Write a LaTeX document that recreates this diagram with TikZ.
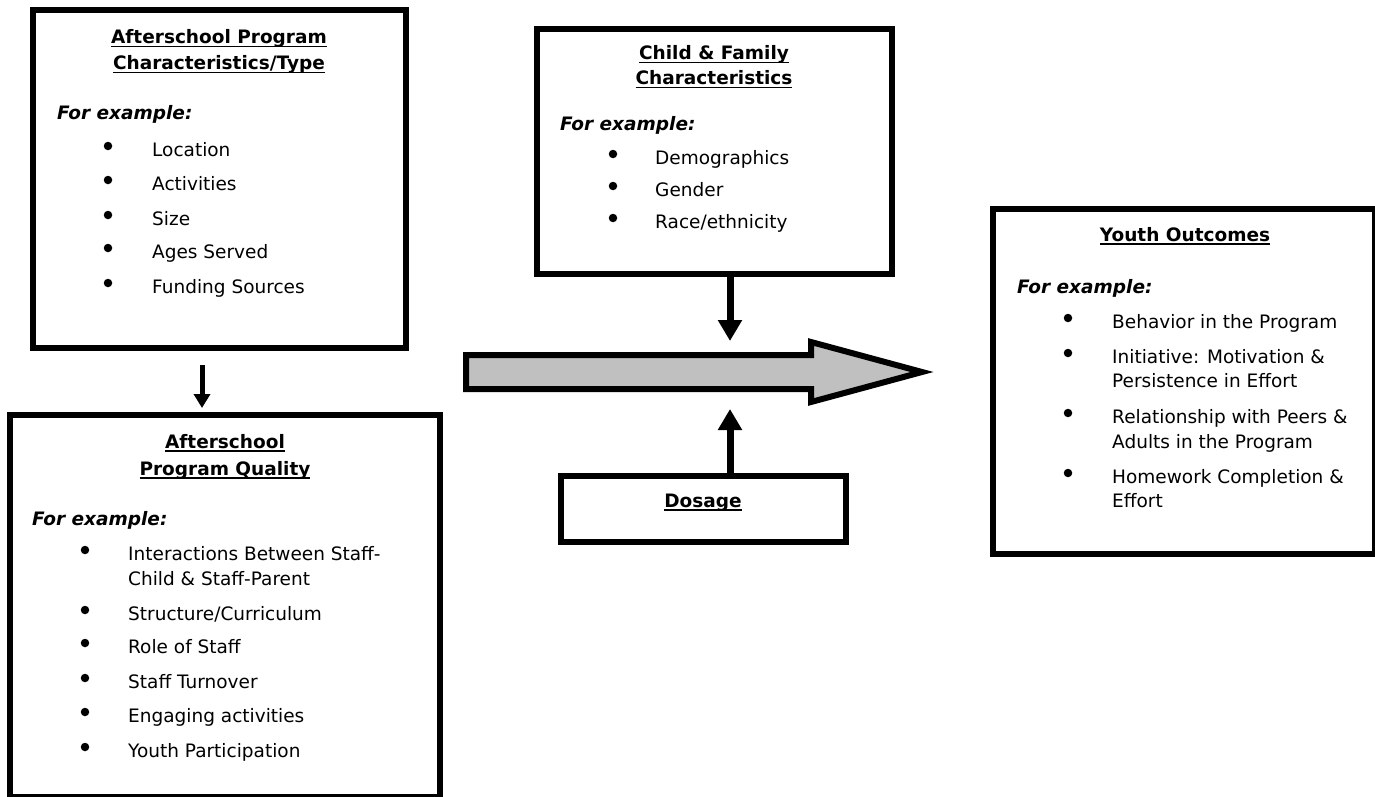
\documentclass[tikz,border=0pt]{standalone}
\usepackage{fontspec}
\setmainfont{DejaVu Sans}
\usetikzlibrary{arrows.meta}
\definecolor{silver}{RGB}{192,192,192}
\newcommand{\undl}[1]{\setbox0=\hbox{#1}\rlap{\rule[-3.5pt]{\wd0}{1.8pt}}\box0}
\tikzset{
  box/.style={draw, line width=6pt, inner sep=0pt},
  ttl/.style={font=\bfseries\fontsize{18.5}{22}\selectfont, anchor=base, inner sep=0pt},
  ex/.style={font=\bfseries\itshape\fontsize{18.5}{22}\selectfont, anchor=base west, inner sep=0pt},
  itm/.style={font=\fontsize{18.5}{22}\selectfont, anchor=base west, inner sep=0pt},
  dot/.style={circle, fill, inner sep=0pt, minimum size=8.5pt},
  thinconn/.style={line width=5pt, -{Triangle[length=14pt,width=16pt]}},
  thickconn/.style={line width=7pt, -{Triangle[length=21pt,width=23pt]}},
}
\begin{document}
\begin{tikzpicture}[x=1pt,y=-1pt]
  \useasboundingbox (0,0) rectangle (1375,797);
  % boxes
  \node[box, minimum width=373pt, minimum height=338pt] (prog) at (219.5,179) {};
  \node[box, minimum width=430pt, minimum height=382pt] (qual) at (225,606) {};
  \node[box, minimum width=355pt, minimum height=245pt] (child) at (714.5,151.5) {};
  \node[box, minimum width=285pt, minimum height=66pt] (dose) at (703.5,509) {};
  \node[box, minimum width=382pt, minimum height=345pt] (youth) at (1184,381.5) {};

  % big arrow
  \draw[line width=6pt, fill=silver] (466,355) -- (811,355) -- (811,342) -- (922,372)
      -- (811,402) -- (811,389) -- (466,389) -- cycle;
  \coordinate (bigtop) at (730,352);
  \coordinate (bigbot) at (730,392);
  \coordinate (a1) at (202,0);

  % program type
  \node[ttl] (progt1) at (219,44) {\undl{Afterschool Program}};
  \node[ttl] (progt2) at (219,70) {\undl{Characteristics/Type}};
  \node[ex] (progex) at (57,120) {For example:};
  \foreach \y/\t [count=\i] in {156/Location,190/Activities,225/Size,258/Ages Served,293/Funding Sources}{
    \node[dot] (progd\i) at (108,\y-10) {};
    \node[itm] (progi\i) at (152,\y) {\t};
  }

  % program quality
  \node[ttl] (qualt1) at (225,448) {\undl{Afterschool}};
  \node[ttl] (qualt2) at (225,475) {\undl{Program Quality}};
  \node[ex] (qualex) at (32,525) {For example:};
  \foreach \y/\d/\t [count=\i] in {560/1/Interactions Between Staff-,585/0/Child \& Staff-Parent,
      620/1/{Structure/Curriculum},653/1/Role of Staff,688/1/Staff Turnover,
      722/1/Engaging activities,757/1/Youth Participation}{
    \ifnum\d=1 \node[dot] (quald\i) at (85,\y-10) {};\fi
    \node[itm] (quali\i) at (128,\y) {\t};
  }

  % child and family
  \node[ttl] (childt1) at (714,60) {\undl{Child \& Family}};
  \node[ttl] (childt2) at (714,85) {\undl{Characteristics}};
  \node[ex] (childex) at (560,131) {For example:};
  \foreach \y/\t [count=\i] in {164/Demographics,196/Gender,228/{Race/ethnicity}}{
    \node[dot] (childd\i) at (613,\y-10) {};
    \node[itm] (childi\i) at (655,\y) {\t};
  }

  % dosage
  \node[ttl] (doset) at (703,507) {\undl{Dosage}};

  % youth outcomes
  \node[ttl] (youtht) at (1185,241) {\undl{Youth Outcomes}};
  \node[ex] (youthex) at (1017,293) {For example:};
  \foreach \y/\d/\t [count=\i] in {328/1/Behavior in the Program,363/1/Initiative: Motivation \&,
      387/0/Persistence in Effort,423/1/Relationship with Peers \&,448/0/Adults in the Program,
      483/1/Homework Completion \&,507/0/Effort}{
    \ifnum\d=1 \node[dot] (youthd\i) at (1068,\y-10) {};\fi
    \node[itm] (youthi\i) at (1112,\y) {\t};
  }

  % connectors
  \draw[thinconn, shorten <=14pt, shorten >=4pt] (prog.south -| a1) -- (qual.north -| a1);
  \draw[thickconn, shorten >=11pt] (child.south -| bigtop) -- (bigtop);
  \draw[thickconn, shorten >=17pt] (dose.north -| bigbot) -- (bigbot);
\end{tikzpicture}
\end{document}
